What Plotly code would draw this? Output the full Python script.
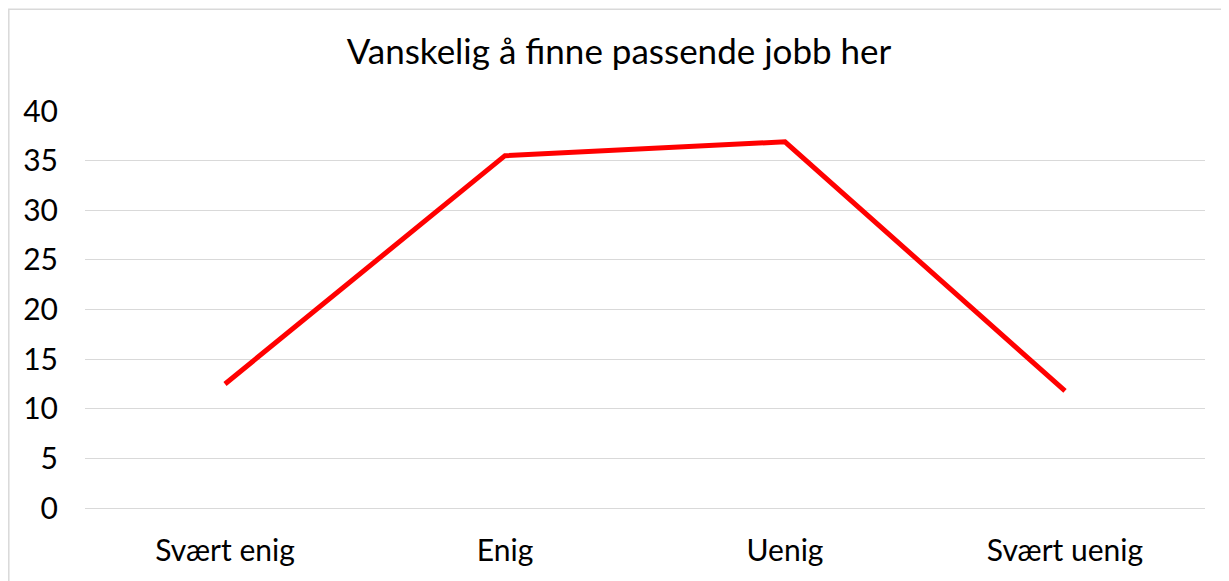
import plotly.graph_objects as go

categories = ["Svært enig", "Enig", "Uenig", "Svært uenig"]
values = [12.5, 35.5, 36.9, 11.8]
y_ticks = [0, 5, 10, 15, 20, 25, 30, 35, 40]
title_text = "Vanskelig å finne passende jobb her"

FONT = "Lato, 'Open Sans', sans-serif"

W, H = 1221, 573

fig = go.Figure()
fig.add_trace(go.Scatter(
    x=categories, y=values, mode="lines",
    line=dict(color="#FF0000", width=5),
    showlegend=False, hoverinfo="x+y",
))

fig.update_layout(
    width=W, height=H,
    margin=dict(l=77, r=24, t=103, b=73),
    paper_bgcolor="white", plot_bgcolor="white",
    title=dict(text=title_text, x=(619 - 8) / W, xref="container", xanchor="center",
               y=1 - 44 / H, yref="container", yanchor="middle",
               font=dict(family=FONT, size=35, color="#000000")),
    xaxis=dict(type="category", range=[-0.5, 3.5], showgrid=False,
               showline=True, linecolor="#d9d9d9", linewidth=1,
               tickfont=dict(family=FONT, size=30, color="#000000"),
               ticks="", ticklabelstandoff=16, zeroline=False),
    yaxis=dict(range=[0, 40], tickvals=y_ticks, showgrid=True,
               gridcolor="#d9d9d9", gridwidth=1, zeroline=False,
               showline=False,
               tickfont=dict(family=FONT, size=30, color="#000000"),
               ticks="", ticklabelstandoff=26),
    shapes=[dict(type="rect", xref="paper", yref="paper",
                 x0=(8.8 - 85) / 1120, x1=1.3, y0=-0.5, y1=(508 - 9.2) / 397,
                 line=dict(color="#d9d9d9", width=1.5), layer="below")],
)

fig.write_html("out.html")
